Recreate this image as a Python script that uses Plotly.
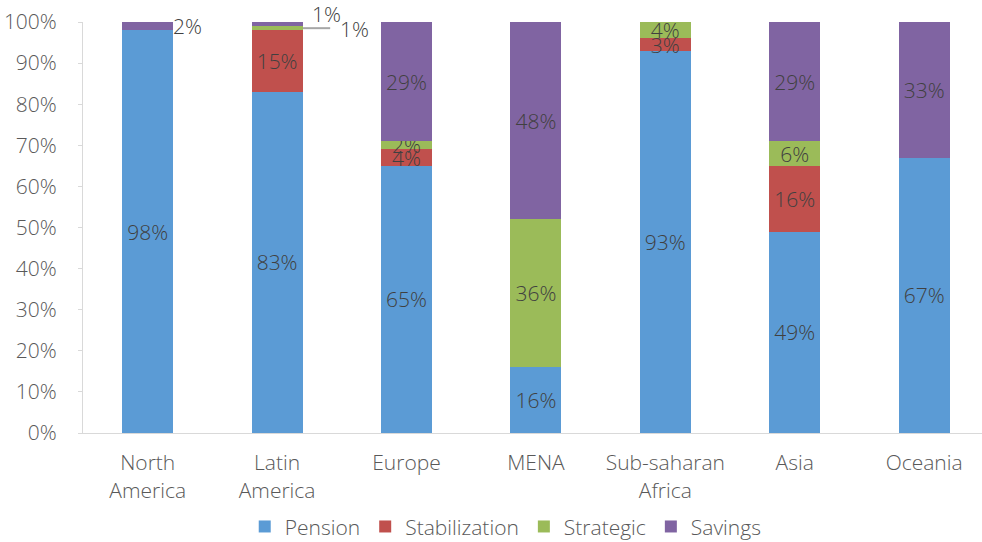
import plotly.graph_objects as go

regions = ["North<br>America", "Latin<br>America", "Europe", "MENA", "Sub-saharan<br>Africa", "Asia", "Oceania"]
pension = [98, 83, 65, 16, 93, 49, 67]
stabilization = [0, 15, 4, 0, 3, 16, 0]
strategic = [0, 1, 2, 36, 4, 6, 0]
savings = [2, 1, 29, 48, 0, 29, 33]

series = [
    ("Pension", pension, "#5B9BD5"),
    ("Stabilization", stabilization, "#C0504D"),
    ("Strategic", strategic, "#9BBB59"),
    ("Savings", savings, "#8064A2"),
]

FONT = "Open Sans"
FS = 21
LBL = dict(family=FONT, size=FS, color="#404040", weight=300)
TCK = dict(family=FONT, size=FS, color="#595959", weight=300)

fig = go.Figure()
for name, vals, color in series:
    texts = [f"{v}%" if v >= 2 else "" for v in vals]
    if name == "Savings":
        texts[0] = ""  # shown outside as annotation
    fig.add_trace(go.Bar(
        name=name, x=regions, y=vals, marker=dict(color=color, line=dict(width=0)),
        text=texts, textposition="inside", insidetextanchor="middle",
        constraintext="none", textangle=0, textfont=LBL,
        hoverinfo="name+y",
    ))

fig.update_layout(
    barmode="stack", bargap=0.606,
    width=982, height=542,
    margin=dict(l=83, r=0, t=22, b=109, autoexpand=False),
    paper_bgcolor="white", plot_bgcolor="white",
    font=TCK,
    legend=dict(orientation="h", x=0.515, xref="container", xanchor="center",
                y=0.028, yref="container", yanchor="middle",
                font=TCK, traceorder="normal", itemwidth=30),
)
fig.update_yaxes(range=[0, 100], dtick=10, ticksuffix="%", showgrid=False,
                 showline=True, linecolor="#D9D9D9", linewidth=1,
                 ticks="outside", ticklen=4, tickcolor="#D9D9D9",
                 ticklabelstandoff=17,
                 tickfont=TCK, zeroline=False, automargin=False)
fig.update_xaxes(showline=True, linecolor="#D9D9D9", linewidth=1, ticks="",
                 ticklabelstandoff=11, range=[-0.5, 6.447],
                 tickfont=TCK, automargin=False)

fig.add_annotation(x=0, y=99, text="2%", showarrow=False, xshift=40, font=LBL)
fig.add_annotation(x=1, y=100, yshift=8, text="1%", showarrow=False, xshift=49, font=LBL)
fig.add_annotation(x=1, y=98.2, text="1%", showarrow=False, xshift=77, font=LBL)
fig.add_shape(type="line", xref="x", yref="y", x0=1.2, x1=1.41, y0=98.5, y1=98.5,
              line=dict(color="#A6A6A6", width=2))

fig.write_html("out.html", post_script="document.body.style.margin='0';",
               config={"displayModeBar": False})
